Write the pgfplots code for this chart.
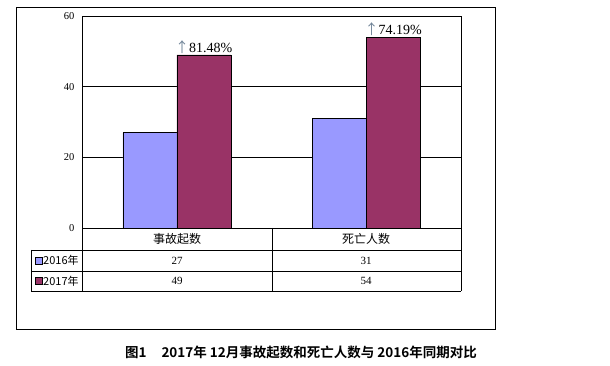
\documentclass[border=0pt]{standalone}
\usepackage{pgfplots}
\pgfplotsset{compat=1.18}
\usepackage{fontspec}
\setmainfont{Liberation Serif}
\newfontfamily\cjk{Noto Sans CJK SC}
\newfontfamily\cjkb{Noto Sans CJK SC Bold}
\definecolor{cblue}{RGB}{153,153,255}
\definecolor{cpurple}{RGB}{153,51,102}
\definecolor{arrowc}{RGB}{110,130,150}
\begin{document}
\begin{tikzpicture}[x=1pt,y=1pt]
\useasboundingbox (0,0) rectangle (610,366);
\draw[line width=0.8pt] (16,37) rectangle (495,359);
\begin{axis}[
  at={(82pt,138pt)}, anchor=south west,
  scale only axis, width=379pt, height=212pt,
  xmin=-0.5, xmax=1.5, ymin=0, ymax=60,
  ytick={0,20,40,60}, xtick=\empty,
  ymajorgrids, grid style={black, line width=0.6pt},
  major tick length=0pt,
  axis line style={line width=0.6pt},
  ybar=0pt, bar width=54pt, clip=false,
  yticklabel style={font=\fontsize{10.5}{12}\selectfont, xshift=-4pt},
  /pgf/number format/assume math mode=true,
]
\addplot[fill=cblue, draw=black, line width=0.5pt] coordinates {(0,27) (1,31)};
\addplot[fill=cpurple, draw=black, line width=0.5pt] coordinates {(0,49) (1,54)};
\node[anchor=south, inner sep=1pt, font=\fontsize{14}{16}\selectfont] at ([xshift=27pt]axis cs:0,49) {{\color{arrowc}\cjk ↑}81.48\%};
\node[anchor=south, inner sep=1pt, font=\fontsize{14}{16}\selectfont] at ([xshift=27pt]axis cs:1,54) {{\color{arrowc}\cjk ↑}74.19\%};
\end{axis}
% data table
\draw[line width=0.6pt] (82,138) -- (82,75);
\draw[line width=0.6pt] (272,138) -- (272,75);
\draw[line width=0.6pt] (461,138) -- (461,75);
\draw[line width=0.6pt] (31,116) -- (31,75);
\draw[line width=0.6pt] (31,116) -- (461,116);
\draw[line width=0.6pt] (31,95) -- (461,95);
\draw[line width=0.6pt] (31,75) -- (461,75);
\node[font=\cjk\fontsize{12}{14}\selectfont] at (177,127) {事故起数};
\node[font=\cjk\fontsize{12}{14}\selectfont] at (366,127) {死亡人数};
\node[font=\fontsize{11}{13}\selectfont] at (177,105.5) {27};
\node[font=\fontsize{11}{13}\selectfont] at (366,105.5) {31};
\node[font=\fontsize{11}{13}\selectfont] at (177,85) {49};
\node[font=\fontsize{11}{13}\selectfont] at (366,85) {54};
\draw[fill=cblue, line width=0.5pt] (35,102) rectangle (42,109);
\draw[fill=cpurple, line width=0.5pt] (35,81.5) rectangle (42,88.5);
\node[anchor=west, inner sep=0pt, font=\cjk\fontsize{11}{13}\selectfont] at (43,105.5) {2016年};
\node[anchor=west, inner sep=0pt, font=\cjk\fontsize{11}{13}\selectfont] at (43,85) {2017年};
% caption
\node[font=\cjkb\fontsize{13.5}{15}\selectfont] at (301,14) {图1\hspace{1.1em}2017年 12月事故起数和死亡人数与 2016年同期对比};
\end{tikzpicture}
\end{document}
